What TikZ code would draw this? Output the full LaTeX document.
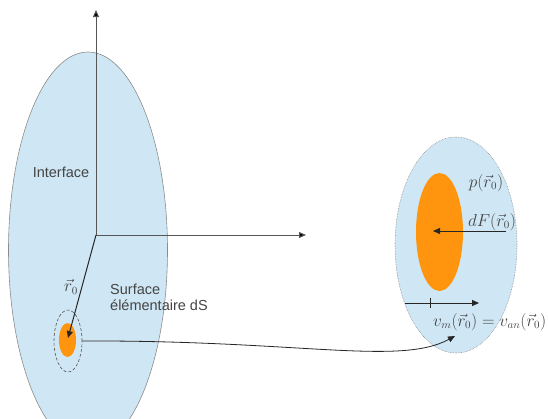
\documentclass[tikz,border=0pt]{standalone}
\usepackage{fontspec}
\setsansfont{Liberation Sans}
\usetikzlibrary{shapes.geometric,arrows.meta}
\definecolor{lightblue}{HTML}{CFE6F4}
\definecolor{orangefill}{HTML}{FF950E}
\definecolor{txtgray}{HTML}{444444}
\definecolor{axisgray}{HTML}{555555}
\tikzset{
  blueblob/.style={ellipse,draw=gray!90,fill=lightblue,line width=0.6pt,inner sep=0pt},
  orangeblob/.style={ellipse,fill=orangefill,draw=none,inner sep=0pt},
  dotblob/.style={ellipse,draw=axisgray,densely dashed,line width=0.6pt,inner sep=0pt},
  axis/.style={draw=axisgray,line width=1pt,-{Triangle[length=7pt,width=6pt,fill=black]}},
  vecarrow/.style={draw=black!85,line width=1pt,-{Triangle[length=7pt,width=6pt]}},
  sanslabel/.style={font=\sffamily\fontsize{14.5}{17}\selectfont,text=txtgray,inner sep=0pt},
  mathlabel/.style={font=\fontsize{16}{18}\selectfont,text=txtgray,inner sep=0pt}
}
\begin{document}
\begin{tikzpicture}[x=1pt,y=-1pt]
\useasboundingbox (0,0) rectangle (548,418);
\clip (0,0) rectangle (548,418);
% big interface
\node[blueblob,minimum width=159pt,minimum height=396pt] (iface) at (88,250) {};
\node[sanslabel] (ilabel) at (61,172) {Interface};
% axes
\coordinate (O) at (96,235);
\coordinate (ytip) at (96,10);
\coordinate (xtip) at (306,235);
\draw[axis] (O) -- (ytip);
\draw[axis] (O) -- (xtip);
% small element
\node[dotblob,minimum width=28pt,minimum height=62pt] (dS) at (68,341) {};
\node[orangeblob,minimum width=17pt,minimum height=34pt] (small) at (67.5,340) {};
\coordinate (r0tip) at (68,338);
\draw[vecarrow] (O) -- (r0tip);
\node[mathlabel] (r0lab) at (71,287) {$\vec{r}_0$};
\node[sanslabel,align=left,anchor=west] (slab) at (110,297) {Surface\\[-1pt]élémentaire dS};
% right zoomed element
\node[blueblob,densely dotted,minimum width=122pt,minimum height=216pt] (zoom) at (456,245) {};
\node[orangeblob,minimum width=47pt,minimum height=118pt] (big) at (439.5,232) {};
% curved connector
\draw[line width=0.8pt,black!85,-{Triangle[length=7pt,width=6pt]}] (dS.east) .. controls (300,340) and (400,366) .. (455,336);
% labels and arrows on right
\node[mathlabel] (plab) at (486,183) {$p(\vec{r}_0)$};
\node[mathlabel] (dflab) at (492,222) {$dF(\vec{r}_0)$};
\coordinate (dfstart) at (506,231);
\coordinate (dfend) at (433,231);
\draw[vecarrow] (dfstart) -- (dfend);
\coordinate (vstart) at (405,303);
\coordinate (vend) at (479,303);
\draw[vecarrow] (vstart) -- (vend);
\coordinate (ticktop) at (430,298);
\coordinate (tickbot) at (430,308);
\draw[black!85,line width=0.8pt] (ticktop) -- (tickbot);
\node[mathlabel,anchor=west] (vlab) at (433,322) {$v_m(\vec{r}_0)=v_{an}(\vec{r}_0)$};
\end{tikzpicture}
\end{document}
